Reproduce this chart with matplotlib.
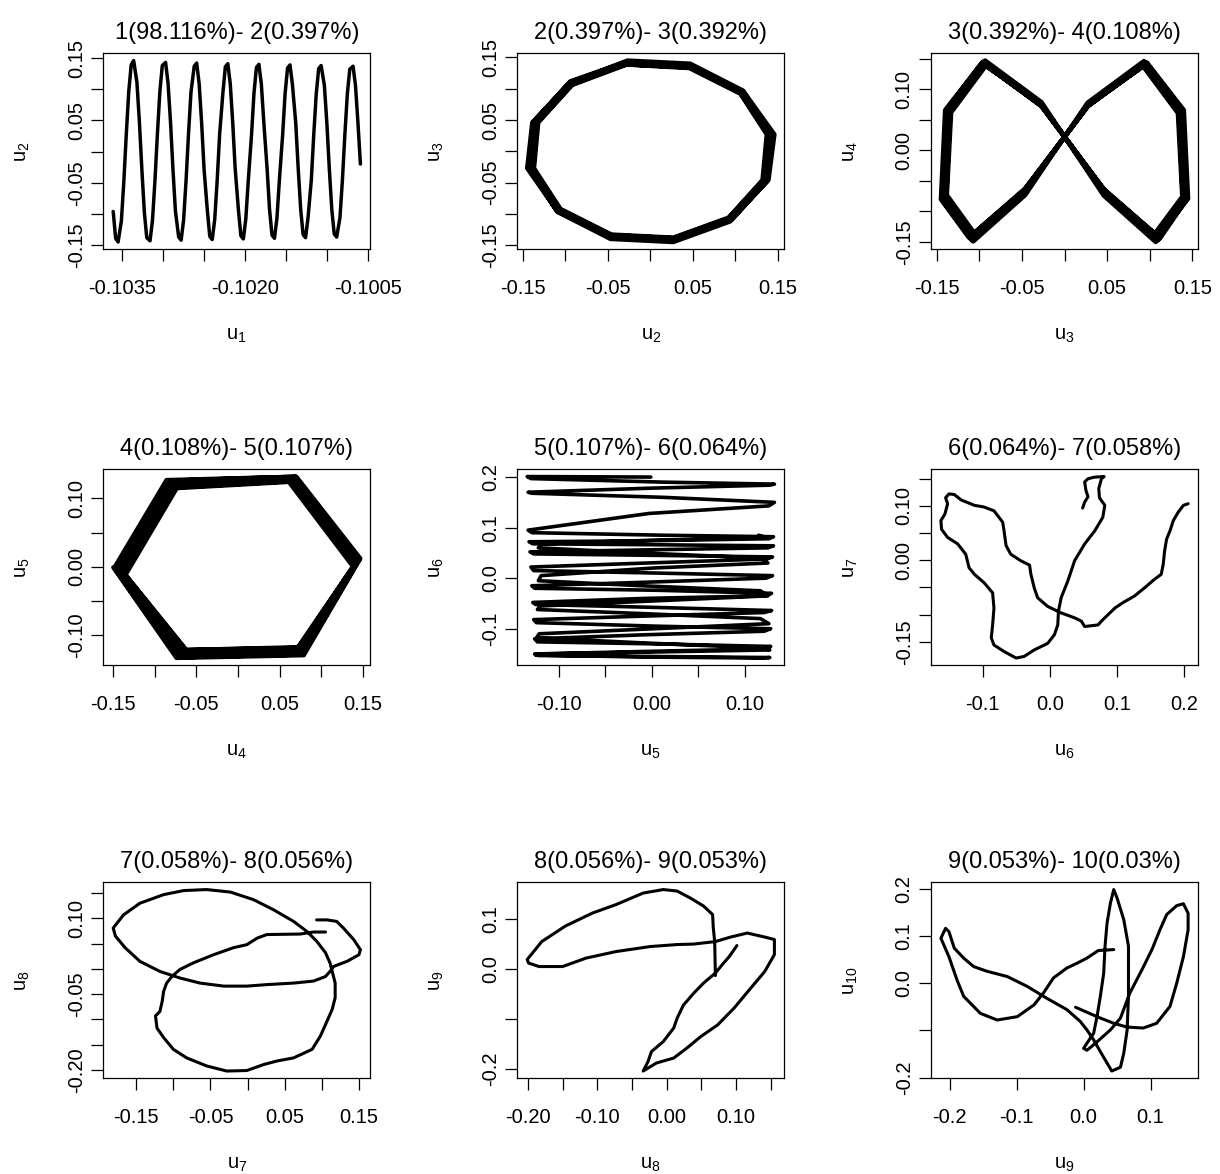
import matplotlib
matplotlib.use("Agg")
import matplotlib.pyplot as plt

plt.rcParams["font.family"] = ["Liberation Sans", "DejaVu Sans"]
plt.rcParams["mathtext.default"] = "regular"
plt.rcParams["axes.unicode_minus"] = False

# ---------------- eigenvector values ----------------
u1 = [-0.10361, -0.10358, -0.10355, -0.10351, -0.10348, -0.10345, -0.10342, -0.10339, -0.10336, -0.10332, -0.10329, -0.10326,
      -0.10323, -0.10320, -0.10316, -0.10313, -0.10310, -0.10307, -0.10304, -0.10301, -0.10297, -0.10294, -0.10291, -0.10288,
      -0.10285, -0.10281, -0.10278, -0.10275, -0.10272, -0.10269, -0.10266, -0.10262, -0.10259, -0.10256, -0.10253, -0.10250,
      -0.10246, -0.10243, -0.10240, -0.10237, -0.10234, -0.10231, -0.10227, -0.10224, -0.10221, -0.10218, -0.10215, -0.10212,
      -0.10208, -0.10205, -0.10202, -0.10199, -0.10196, -0.10192, -0.10189, -0.10186, -0.10183, -0.10180, -0.10177, -0.10173,
      -0.10170, -0.10167, -0.10164, -0.10161, -0.10158, -0.10154, -0.10151, -0.10148, -0.10145, -0.10142, -0.10138, -0.10135,
      -0.10132, -0.10129, -0.10126, -0.10123, -0.10119, -0.10116, -0.10113, -0.10110, -0.10107, -0.10103, -0.10100, -0.10097,
      -0.10094, -0.10091, -0.10088, -0.10084, -0.10081, -0.10078, -0.10075, -0.10072, -0.10068, -0.10065, -0.10062, -0.10059]

u2 = [-0.096, -0.139, -0.145, -0.111, -0.048, 0.028, 0.096, 0.139, 0.146, 0.111, 0.048, -0.028,
      -0.096, -0.138, -0.143, -0.110, -0.047, 0.028, 0.096, 0.138, 0.143, 0.110, 0.048, -0.028,
      -0.095, -0.137, -0.142, -0.110, -0.047, 0.028, 0.095, 0.137, 0.142, 0.109, 0.047, -0.028,
      -0.094, -0.136, -0.141, -0.109, -0.047, 0.027, 0.094, 0.136, 0.141, 0.109, 0.047, -0.027,
      -0.094, -0.135, -0.140, -0.108, -0.047, 0.027, 0.094, 0.135, 0.140, 0.108, 0.047, -0.027,
      -0.093, -0.134, -0.139, -0.107, -0.046, 0.027, 0.093, 0.134, 0.139, 0.107, 0.046, -0.027,
      -0.092, -0.133, -0.138, -0.106, -0.046, 0.027, 0.092, 0.133, 0.138, 0.106, 0.046, -0.027,
      -0.092, -0.132, -0.137, -0.106, -0.046, 0.027, 0.092, 0.132, 0.137, 0.106, 0.046, -0.020]

u3 = [0.107, 0.046, -0.027, -0.093, -0.134, -0.139, -0.107, -0.046, 0.027, 0.093, 0.134, 0.139,
      0.109, 0.047, -0.028, -0.094, -0.136, -0.141, -0.109, -0.047, 0.028, 0.094, 0.136, 0.141,
      0.110, 0.048, -0.028, -0.096, -0.138, -0.143, -0.110, -0.048, 0.028, 0.096, 0.138, 0.143,
      0.112, 0.048, -0.028, -0.097, -0.140, -0.145, -0.112, -0.048, 0.028, 0.097, 0.140, 0.145,
      0.110, 0.048, -0.028, -0.096, -0.138, -0.143, -0.110, -0.048, 0.028, 0.096, 0.138, 0.143,
      0.109, 0.047, -0.028, -0.094, -0.136, -0.141, -0.109, -0.047, 0.028, 0.094, 0.136, 0.141,
      0.107, 0.046, -0.027, -0.093, -0.134, -0.139, -0.107, -0.046, 0.027, 0.093, 0.134, 0.139,
      0.106, 0.046, -0.027, -0.092, -0.133, -0.138, -0.106, -0.046, 0.027, 0.092, 0.133, 0.138]

u4 = [-0.150, -0.074, 0.079, 0.147, 0.070, -0.086,
      -0.149, -0.073, 0.078, 0.146, 0.069, -0.085,
      -0.148, -0.072, 0.078, 0.146, 0.069, -0.084,
      -0.147, -0.071, 0.077, 0.145, 0.068, -0.083,
      -0.146, -0.070, 0.077, 0.145, 0.068, -0.082,
      -0.145, -0.069, 0.076, 0.144, 0.067, -0.081,
      -0.144, -0.068, 0.076, 0.143, 0.066, -0.080,
      -0.143, -0.068, 0.075, 0.143, 0.066, -0.079,
      -0.142, -0.067, 0.075, 0.142, 0.065, -0.078,
      -0.141, -0.066, 0.074, 0.141, 0.064, -0.077,
      -0.140, -0.066, 0.074, 0.141, 0.064, -0.076,
      -0.139, -0.065, 0.073, 0.140, 0.063, -0.075,
      -0.138, -0.064, 0.073, 0.140, 0.063, -0.074,
      -0.137, -0.064, 0.072, 0.139, 0.062, -0.074,
      -0.136, -0.063, 0.072, 0.139, 0.062, -0.073,
      -0.135, -0.062, 0.072, 0.138, 0.061, -0.072]

u5 = [-0.001, -0.134, -0.130, 0.012, 0.132, 0.127,
      -0.002, -0.133, -0.129, 0.011, 0.132, 0.126,
      -0.003, -0.133, -0.129, 0.011, 0.131, 0.126,
      -0.003, -0.132, -0.128, 0.010, 0.131, 0.125,
      -0.004, -0.131, -0.127, 0.009, 0.130, 0.124,
      -0.005, -0.130, -0.127, 0.008, 0.130, 0.123,
      -0.006, -0.129, -0.126, 0.007, 0.129, 0.122,
      -0.007, -0.128, -0.125, 0.007, 0.129, 0.121,
      -0.007, -0.127, -0.124, 0.006, 0.128, 0.121,
      -0.008, -0.126, -0.123, 0.005, 0.128, 0.120,
      -0.009, -0.126, -0.122, 0.004, 0.127, 0.119,
      -0.009, -0.125, -0.121, 0.003, 0.127, 0.118,
      -0.010, -0.124, -0.121, 0.003, 0.126, 0.117,
      -0.011, -0.123, -0.120, 0.002, 0.125, 0.117,
      -0.011, -0.122, -0.119, 0.001, 0.125, 0.116,
      -0.012, -0.122, -0.118, 0.000, 0.124, 0.115]

u6 = [0.200, 0.201, 0.197, 0.190, 0.186, 0.184,
      0.178, 0.170, 0.168, 0.160, 0.150, 0.143,
      0.128, 0.095, 0.090, 0.085, 0.082, 0.078,
      0.074, 0.072, 0.068, 0.066, 0.064, 0.060,
      0.056, 0.052, 0.048, 0.045, 0.042, 0.038,
      0.030, 0.022, 0.015, 0.010, 0.005, 0.000,
      -0.008, -0.015, -0.020, -0.024, -0.030, -0.035,
      -0.040, -0.048, -0.052, -0.058, -0.064, -0.068,
      -0.075, -0.082, -0.088, -0.095, -0.100, -0.105,
      -0.112, -0.120, -0.126, -0.130, -0.135, -0.140,
      -0.145, -0.150, -0.153, -0.155, -0.157, -0.158,
      -0.156, -0.152, -0.150, -0.146, -0.142, -0.138,
      -0.128, -0.118, -0.110, -0.100, -0.090, -0.080,
      -0.070, -0.062, -0.055, -0.045, -0.035, -0.025,
      -0.015, -0.005, 0.005, 0.020, 0.030, 0.040,
      0.050, 0.060, 0.068, 0.075, 0.080, 0.085]

# panel 6 : u6 vs u7 path
u6_p6 = [0.206, 0.199, 0.191, 0.184, 0.179, 0.174, 0.171, 0.169, 0.166, 0.156,
         0.141, 0.126, 0.109, 0.097, 0.087, 0.077, 0.072, 0.052, 0.047, 0.037,
         0.017, -0.003, -0.018, -0.023, -0.028, -0.030, -0.043, -0.058, -0.065, -0.068,
         -0.070, -0.083, -0.098, -0.112, -0.132, -0.142, -0.150, -0.155, -0.152, -0.156,
         -0.162, -0.161, -0.152, -0.137, -0.125, -0.120, -0.112, -0.098, -0.085, -0.083,
         -0.085, -0.087, -0.083, -0.068, -0.050, -0.038, -0.023, -0.003, 0.007, 0.012,
         0.013, 0.017, 0.027, 0.037, 0.052, 0.067, 0.079, 0.082, 0.074, 0.073,
         0.077, 0.081, 0.067, 0.057, 0.052, 0.054, 0.057, 0.052, 0.049]
u7_p6 = [0.104, 0.101, 0.088, 0.073, 0.054, 0.039, 0.017, -0.007, -0.026, -0.035,
         -0.051, -0.066, -0.078, -0.088, -0.100, -0.112, -0.119, -0.122, -0.112, -0.106,
         -0.097, -0.085, -0.069, -0.051, -0.026, -0.009, -0.001, 0.011, 0.027, 0.054,
         0.070, 0.091, 0.098, 0.101, 0.111, 0.121, 0.122, 0.115, 0.104, 0.085,
         0.073, 0.057, 0.042, 0.030, 0.011, -0.014, -0.026, -0.041, -0.060, -0.088,
         -0.119, -0.143, -0.156, -0.168, -0.180, -0.177, -0.165, -0.153, -0.137, -0.119,
         -0.094, -0.069, -0.038, -0.001, 0.030, 0.054, 0.079, 0.101, 0.115, 0.132,
         0.150, 0.154, 0.153, 0.150, 0.144, 0.128, 0.117, 0.107, 0.096]

# panel 7 : u7 vs u8 path
u7_p7 = [0.105, 0.089, 0.071, 0.026, 0.013, -0.001, -0.019, -0.046, -0.073, -0.091,
         -0.102, -0.109, -0.113, -0.115, -0.118, -0.124, -0.122, -0.113, -0.100, -0.082,
         -0.055, -0.028, -0.001, 0.022, 0.040, 0.062, 0.087, 0.098, 0.105, 0.114,
         0.118, 0.118, 0.114, 0.111, 0.105, 0.093, 0.080, 0.062, 0.035, 0.008,
         -0.023, -0.055, -0.086, -0.113, -0.145, -0.167, -0.181, -0.178, -0.165, -0.145,
         -0.118, -0.091, -0.064, -0.032, -0.001, 0.026, 0.062, 0.089, 0.105, 0.111,
         0.116, 0.134, 0.150, 0.152, 0.143, 0.129, 0.120, 0.107, 0.093]
u8_p7 = [0.073, 0.073, 0.069, 0.068, 0.061, 0.048, 0.042, 0.028, 0.012, -0.001,
         -0.015, -0.028, -0.044, -0.064, -0.084, -0.093, -0.117, -0.136, -0.159, -0.176,
         -0.192, -0.202, -0.201, -0.189, -0.182, -0.176, -0.159, -0.133, -0.110, -0.080,
         -0.057, -0.028, -0.005, 0.012, 0.032, 0.055, 0.074, 0.094, 0.117, 0.137,
         0.152, 0.157, 0.155, 0.147, 0.130, 0.107, 0.081, 0.065, 0.042, 0.015,
         -0.005, -0.018, -0.028, -0.034, -0.034, -0.031, -0.028, -0.024, -0.015, -0.005,
         0.005, 0.015, 0.028, 0.038, 0.058, 0.081, 0.094, 0.097, 0.097]

# panel 8 : u8 vs u9 path
u8_p8 = [0.101, 0.090, 0.080, 0.070, 0.053, 0.039, 0.024, 0.015, 0.010, -0.005,
         -0.022, -0.027, -0.034, -0.015, 0.010, 0.029, 0.049, 0.073, 0.097, 0.121,
         0.141, 0.155, 0.155, 0.141, 0.116, 0.092, 0.070, 0.039, 0.015, -0.024,
         -0.073, -0.116, -0.150, -0.184, -0.199, -0.201, -0.180, -0.146, -0.107, -0.073,
         -0.034, -0.005, 0.015, 0.034, 0.053, 0.066, 0.067, 0.069, 0.070]
u9_p8 = [0.047, 0.025, 0.009, -0.008, -0.028, -0.048, -0.072, -0.098, -0.118, -0.145,
         -0.165, -0.185, -0.204, -0.188, -0.178, -0.158, -0.135, -0.112, -0.078, -0.038,
         -0.005, 0.029, 0.059, 0.064, 0.072, 0.064, 0.055, 0.050, 0.049, 0.045,
         0.035, 0.022, 0.005, 0.005, 0.012, 0.019, 0.055, 0.086, 0.112, 0.129,
         0.152, 0.159, 0.156, 0.142, 0.126, 0.109, 0.082, 0.055, -0.013]

# panel 9 : u9 vs u10 path
u9_p9 = [0.045, 0.022, 0.005, -0.010, -0.025, -0.045, -0.060, -0.074, -0.099, -0.129,
         -0.154, -0.179, -0.189, -0.201, -0.213, -0.206, -0.201, -0.193, -0.179, -0.164,
         -0.144, -0.114, -0.084, -0.055, -0.025, -0.005, 0.005, 0.015, 0.025, 0.035,
         0.042, 0.055, 0.060, 0.065, 0.067, 0.067, 0.060, 0.050, 0.045, 0.040,
         0.035, 0.032, 0.030, 0.025, 0.020, 0.015, 0.005, 0.000, 0.005, 0.012,
         0.025, 0.040, 0.055, 0.069, 0.087, 0.102, 0.114, 0.124, 0.139, 0.149,
         0.156, 0.156, 0.149, 0.139, 0.129, 0.109, 0.089, 0.065, 0.045, 0.020, -0.012]
u10_p9 = [0.071, 0.069, 0.053, 0.042, 0.032, 0.011, -0.021, -0.046, -0.071, -0.078,
          -0.064, -0.028, 0.007, 0.056, 0.095, 0.116, 0.109, 0.074, 0.053, 0.035,
          0.025, 0.014, -0.007, -0.032, -0.056, -0.081, -0.099, -0.120, -0.145, -0.169,
          -0.186, -0.178, -0.148, -0.099, -0.028, 0.078, 0.134, 0.180, 0.198, 0.169,
          0.127, 0.078, 0.021, -0.028, -0.071, -0.106, -0.127, -0.138, -0.142, -0.134,
          -0.118, -0.099, -0.074, -0.021, 0.028, 0.071, 0.113, 0.145, 0.164, 0.168,
          0.148, 0.113, 0.056, 0.000, -0.049, -0.085, -0.095, -0.093, -0.085, -0.071, -0.051]

titles = ["1(98.116%)- 2(0.397%)", "2(0.397%)- 3(0.392%)", "3(0.392%)- 4(0.108%)",
          "4(0.108%)- 5(0.107%)", "5(0.107%)- 6(0.064%)", "6(0.064%)- 7(0.058%)",
          "7(0.058%)- 8(0.056%)", "8(0.056%)- 9(0.053%)", "9(0.053%)- 10(0.03%)"]

xticks = [
    ([-0.1035, -0.1030, -0.1025, -0.1020, -0.1015, -0.1010, -0.1005], ["-0.1035", "", "", "-0.1020", "", "", "-0.1005"]),
    ([-0.15, -0.10, -0.05, 0.0, 0.05, 0.10, 0.15], ["-0.15", "", "-0.05", "", "0.05", "", "0.15"]),
    ([-0.15, -0.10, -0.05, 0.0, 0.05, 0.10, 0.15], ["-0.15", "", "-0.05", "", "0.05", "", "0.15"]),
    ([-0.15, -0.10, -0.05, 0.0, 0.05, 0.10, 0.15], ["-0.15", "", "-0.05", "", "0.05", "", "0.15"]),
    ([-0.10, -0.05, 0.0, 0.05, 0.10], ["-0.10", "", "0.00", "", "0.10"]),
    ([-0.1, 0.0, 0.1, 0.2], ["-0.1", "0.0", "0.1", "0.2"]),
    ([-0.15, -0.10, -0.05, 0.0, 0.05, 0.10, 0.15], ["-0.15", "", "-0.05", "", "0.05", "", "0.15"]),
    ([-0.20, -0.15, -0.10, -0.05, 0.0, 0.05, 0.10, 0.15], ["-0.20", "", "-0.10", "", "0.00", "", "0.10", ""]),
    ([-0.2, -0.1, 0.0, 0.1], ["-0.2", "-0.1", "0.0", "0.1"]),
]
yticks = [
    ([-0.15, -0.10, -0.05, 0.0, 0.05, 0.10, 0.15], ["-0.15", "", "-0.05", "", "0.05", "", "0.15"]),
    ([-0.15, -0.10, -0.05, 0.0, 0.05, 0.10, 0.15], ["-0.15", "", "-0.05", "", "0.05", "", "0.15"]),
    ([-0.15, -0.10, -0.05, 0.0, 0.05, 0.10, 0.15], ["-0.15", "", "", "0.00", "", "0.10", ""]),
    ([-0.10, -0.05, 0.0, 0.05, 0.10], ["-0.10", "", "0.00", "", "0.10"]),
    ([-0.1, 0.0, 0.1, 0.2], ["-0.1", "0.0", "0.1", "0.2"]),
    ([-0.15, -0.10, -0.05, 0.0, 0.05, 0.10, 0.15], ["-0.15", "", "", "0.00", "", "0.10", ""]),
    ([-0.20, -0.15, -0.10, -0.05, 0.0, 0.05, 0.10, 0.15], ["-0.20", "", "", "-0.05", "", "", "0.10", ""]),
    ([-0.2, -0.1, 0.0, 0.1], ["-0.2", "", "0.0", "0.1"]),
    ([-0.2, -0.1, 0.0, 0.1, 0.2], ["-0.2", "", "0.0", "0.1", "0.2"]),
]

pairs = [(u1, u2), (u2, u3), (u3, u4), (u4, u5), (u5, u6),
         (u6_p6, u7_p6), (u7_p7, u8_p7), (u8_p8, u9_p8), (u9_p9, u10_p9)]

# ---------------- layout ----------------
W, H = 1220, 1174
fig = plt.figure(figsize=(W / 100, H / 100), dpi=100)
lefts = [103.3, 517.3, 931.0]
tops = [53.3, 469.3, 882.3]
aw, ah = 267, 196
line_widths = [2.5, 3.2, 3.2, 3.0, 2.6, 2.2, 2.2, 2.2, 2.2]


def padded(v):
    lo, hi = min(v), max(v)
    p = 0.04 * (hi - lo)
    return lo - p, hi + p


for i, (xs, ys) in enumerate(pairs):
    r, c = divmod(i, 3)
    ax = fig.add_axes([lefts[c] / W, 1 - (tops[r] + ah) / H, aw / W, ah / H])
    ax.plot(xs, ys, color="black", lw=line_widths[i], solid_joinstyle="round", solid_capstyle="round")
    ax.set_xticks(xticks[i][0])
    ax.set_xticklabels(xticks[i][1])
    ax.set_yticks(yticks[i][0])
    ax.set_yticklabels(yticks[i][1], rotation=90, va="center")
    ax.set_xlim(*padded(xs))
    ax.set_ylim(*padded(ys))
    for s in ax.spines.values():
        s.set_linewidth(0.9)
    ax.tick_params(direction="out", length=8.5, width=0.9, labelsize=14.5, colors="black")
    ax.tick_params(axis="x", pad=13)
    ax.tick_params(axis="y", pad=4)
    ax.set_title(titles[i], fontsize=17, pad=10)
    ax.set_xlabel("$u_{%d}$" % (i + 1), fontsize=14.5, labelpad=20)
    ax.set_ylabel("$u_{%d}$" % (i + 2), fontsize=14.5, labelpad=25)

fig.savefig("out.png", dpi=100)
